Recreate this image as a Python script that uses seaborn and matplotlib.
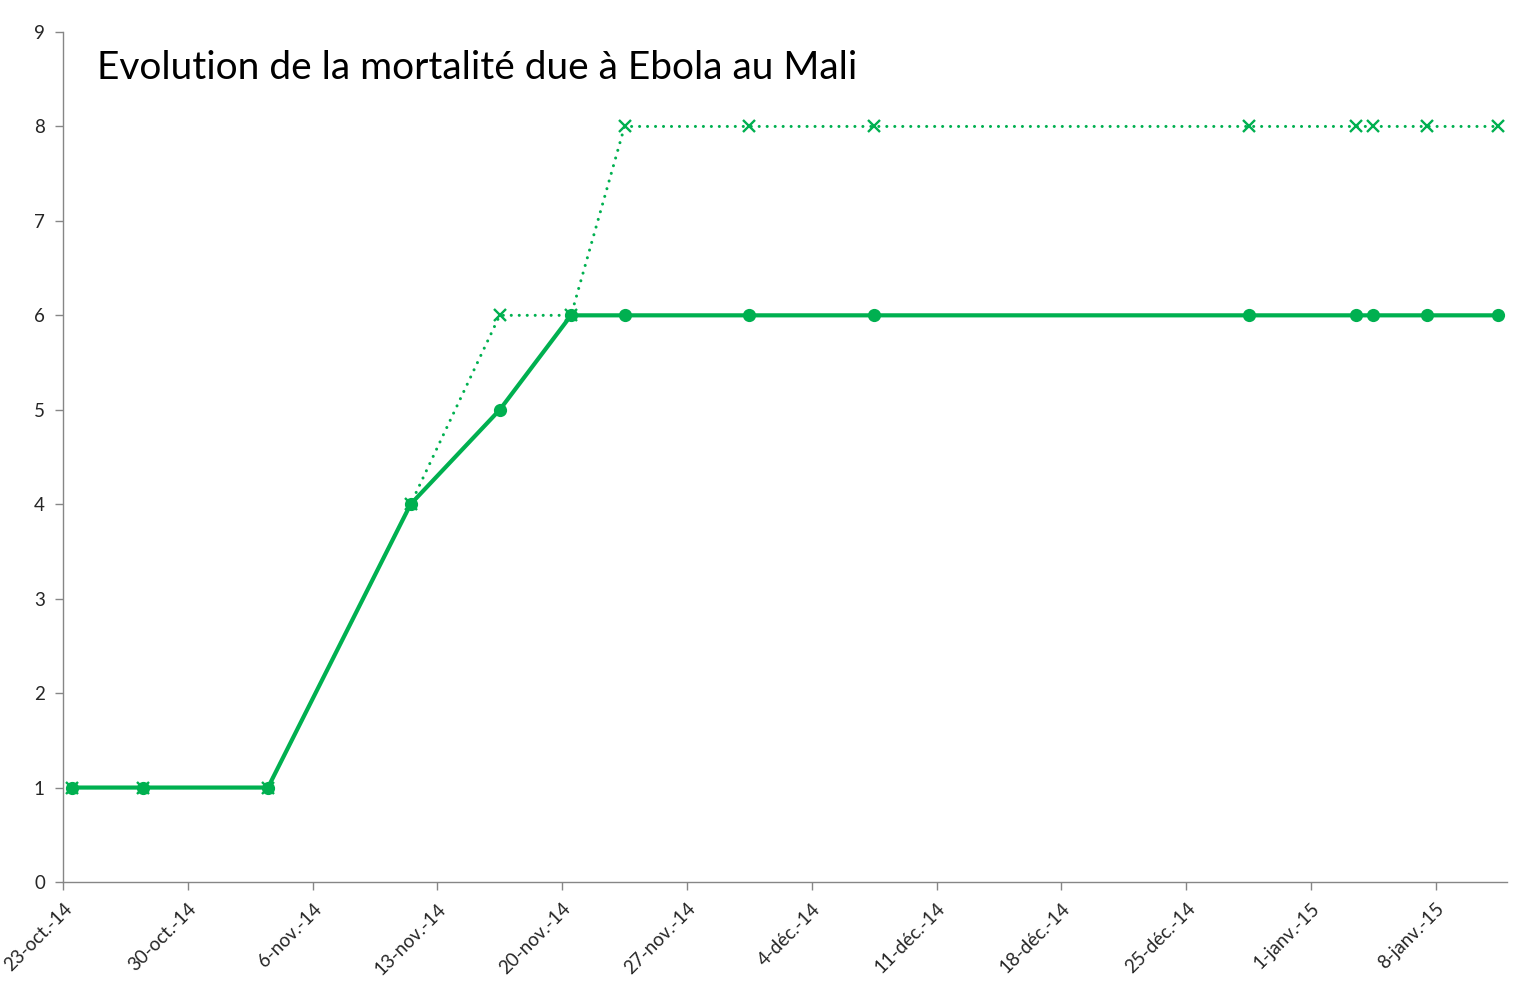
import pandas as pd
import seaborn as sns
import matplotlib.pyplot as plt

# data
dates = ["2014-10-23", "2014-10-27", "2014-11-03", "2014-11-11", "2014-11-16",
         "2014-11-20", "2014-11-23", "2014-11-30", "2014-12-07", "2014-12-28",
         "2015-01-03", "2015-01-04", "2015-01-07", "2015-01-11"]
deaths_solid = [1, 1, 1, 4, 5, 6, 6, 6, 6, 6, 6, 6, 6, 6]
deaths_dotted = [1, 1, 1, 4, 6, 6, 8, 8, 8, 8, 8, 8, 8, 8]

tick_labels = ["23-oct.-14", "30-oct.-14", "6-nov.-14", "13-nov.-14", "20-nov.-14",
               "27-nov.-14", "4-déc.-14", "11-déc.-14", "18-déc.-14", "25-déc.-14",
               "1-janv.-15", "8-janv.-15"]

title = "Evolution de la mortalité due à Ebola au Mali"

GREEN = "#00B050"
GREY = "#868686"

sns.set_style("white")
plt.rcParams["font.family"] = ["Lato", "DejaVu Sans"]

df = pd.DataFrame({
    "date": pd.to_datetime(dates) + pd.Timedelta(hours=12),  # excel puts points mid-day
    "solid": deaths_solid,
    "dotted": deaths_dotted,
})

fig = plt.figure(figsize=(15.28, 10), dpi=100)
ax = fig.add_axes([0.0412, 0.118, 0.9451, 0.850])

sns.lineplot(data=df, x="date", y="dotted", ax=ax, color=GREEN,
             linewidth=2.2, linestyle=(0, (0.01, 2.6)), dash_capstyle="round",
             marker="x", markersize=8.5, markeredgewidth=1.7, markeredgecolor=GREEN)
sns.lineplot(data=df, x="date", y="solid", ax=ax, color=GREEN,
             linewidth=3, marker="o", markersize=9.5, markeredgewidth=0)

start = pd.Timestamp("2014-10-23")
ax.set_xlim(start, start + pd.Timedelta(days=81))
ticks = [start + pd.Timedelta(days=7 * i) for i in range(len(tick_labels))]
ax.set_xticks(ticks)
ax.set_xticklabels(tick_labels, rotation=45, ha="right", va="top",
                   rotation_mode="anchor", fontsize=13.5)

ax.set_ylim(0, 9)
ax.set_yticks(range(0, 10))
ax.tick_params(axis="y", labelsize=13.5, length=6, width=1, color=GREY,
               direction="out", left=True, pad=7)
ax.tick_params(axis="x", length=6, width=1, color=GREY, direction="out",
               bottom=True, pad=7)

ax.set_xlabel("")
ax.set_ylabel("")

for side in ["top", "right"]:
    ax.spines[side].set_visible(False)
for side in ["left", "bottom"]:
    ax.spines[side].set_color(GREY)
    ax.spines[side].set_linewidth(1)

ax.text(97 / 1528, 1 - 79 / 1000, title, transform=fig.transFigure,
        fontsize=28, va="baseline", ha="left", color="black")

fig.savefig("out.png", dpi=100)
